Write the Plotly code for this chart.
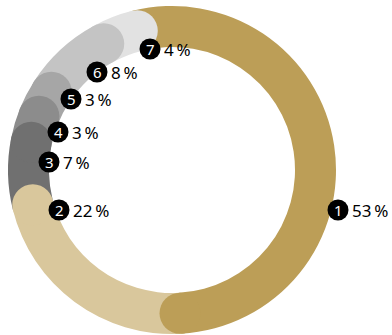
import math
import plotly.graph_objects as go

# Share of each category (percent), in ring order starting at the top
categories = ["1", "2", "3", "4", "5", "6", "7"]
shares = [53, 22, 7, 3, 3, 8, 4]
colors = ["#bc9e57", "#d9c79c", "#707070", "#8c8c8c", "#a6a6a6", "#c4c4c4", "#e2e2e2"]
value_labels = [f"{v}\u2009%" for v in shares]

W, H = 392, 335
CX, CY = 172, 170          # ring centre (px)
R_OUT = 164                # outer radius (px)
HOLE = 0.75
R_IN = R_OUT * HOLE
ROTATION = -14             # start angle, degrees clockwise from 12 o'clock

# badge centres for the numbered labels (px)
badge_pos = [(338, 210), (59, 210), (49, 162), (58, 132), (71, 99), (97, 72), (150, 49)]
BADGE_R = 10.5


def px_x(x):
    return x / W


def px_y(y):
    return 1 - y / H


fig = go.Figure(
    go.Pie(
        labels=categories,
        values=shares,
        marker=dict(colors=colors, line=dict(width=0)),
        hole=HOLE,
        sort=False,
        direction="clockwise",
        rotation=ROTATION,
        textinfo="none",
        hoverinfo="skip",
        showlegend=False,
        domain=dict(
            x=[px_x(CX - R_OUT), px_x(CX + R_OUT)],
            y=[px_y(CY + R_OUT), px_y(CY - R_OUT)],
        ),
    )
)

shapes = []

# rounded end caps: one disc at the end of every segment,
# earlier segments' caps sit on top of later ones
total = sum(shares)
r_mid = (R_OUT + R_IN) / 2
r_cap = (R_OUT - R_IN) / 2
cum = 0
caps = []
for v, c in zip(shares, colors):
    cum += v
    ang = math.radians(ROTATION + 360 * cum / total)
    x = CX + r_mid * math.sin(ang)
    y = CY - r_mid * math.cos(ang)
    caps.append(dict(
        type="circle", xref="paper", yref="paper",
        x0=px_x(x - r_cap), x1=px_x(x + r_cap),
        y0=px_y(y + r_cap), y1=px_y(y - r_cap),
        fillcolor=c, line=dict(width=0), layer="above",
    ))
shapes.extend(reversed(caps))

annotations = []
for cat, lab, (bx, by) in zip(categories, value_labels, badge_pos):
    shapes.append(dict(
        type="circle", xref="paper", yref="paper",
        x0=px_x(bx - BADGE_R), x1=px_x(bx + BADGE_R),
        y0=px_y(by + BADGE_R), y1=px_y(by - BADGE_R),
        fillcolor="#000000", line=dict(width=0), layer="above",
    ))
    annotations.append(dict(
        x=px_x(bx), y=px_y(by - 0.5), xref="paper", yref="paper",
        text=cat, showarrow=False, xanchor="center", yanchor="middle",
        font=dict(family="Noto Sans", size=15, color="#ffffff"),
    ))
    annotations.append(dict(
        x=px_x(bx + 12), y=px_y(by), xref="paper", yref="paper",
        text=lab, showarrow=False, xanchor="left", yanchor="middle",
        font=dict(family="Noto Sans", size=17, color="#000000"),
    ))

fig.update_layout(
    width=W, height=H,
    margin=dict(l=0, r=0, t=0, b=0),
    paper_bgcolor="#ffffff",
    plot_bgcolor="#ffffff",
    shapes=shapes,
    annotations=annotations,
)

fig.write_html("out.html", config={"displayModeBar": False})
